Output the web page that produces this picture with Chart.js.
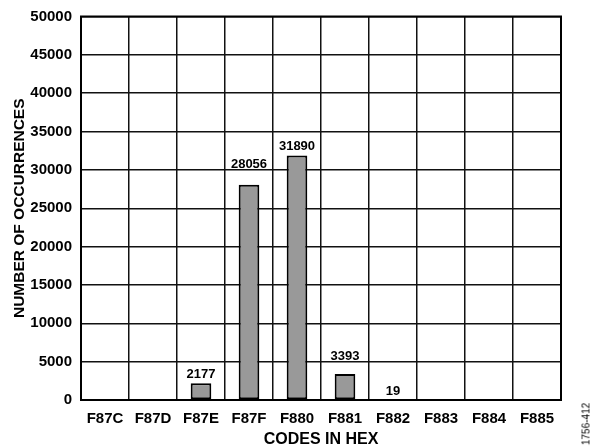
<!DOCTYPE html>
<html>
<head>
<meta charset="utf-8">
<script src="https://cdn.jsdelivr.net/npm/chart.js@4"></script>
<style>
  html, body { margin: 0; padding: 0; background: #fff; }
  #wrap { position: relative; width: 593px; height: 448px; }
  #side { position: absolute; left: 586px; top: 424px; transform: translate(-50%, -50%) rotate(-90deg);
          font: 10px "Liberation Sans", Arial, sans-serif; color: #000; white-space: nowrap; }
</style>
</head>
<body>
<div id="wrap">
  <canvas id="histChart" width="593" height="448"></canvas>
  <div id="side">1756-412</div>
</div>
<script>
// codes histogram
const codes = ['F87C', 'F87D', 'F87E', 'F87F', 'F880', 'F881', 'F882', 'F883', 'F884', 'F885'];
const occurrences = [0, 0, 2177, 28056, 31890, 3393, 19, 0, 0, 0];
const yTicks = [0, 5000, 10000, 15000, 20000, 25000, 30000, 35000, 40000, 45000, 50000];

const FONT = '"Liberation Sans", Arial, sans-serif';

// value labels above bars, pushed above a grid line when they would cross one
const barLabels = {
    id: 'barLabels',
    afterDatasetsDraw(chart) {
        const ctx = chart.ctx;
        const yScale = chart.scales.y;
        const meta = chart.getDatasetMeta(0);
        ctx.save();
        ctx.font = 'bold 13px ' + FONT;
        ctx.fillStyle = '#000';
        ctx.textAlign = 'center';
        ctx.textBaseline = 'alphabetic';
        meta.data.forEach((bar, i) => {
            const v = occurrences[i];
            if (!v) return;
            let base = bar.y - 5;
            const top = base - 10;
            yTicks.forEach(t => {
                const ly = yScale.getPixelForValue(t);
                if (ly >= top - 1 && ly <= base + 1) base = ly - 2;
            });
            ctx.fillText(String(v), bar.x, base);
        });
        ctx.restore();
    }
};

const frame = {
    id: 'frame',
    afterDraw(chart) {
        const a = chart.chartArea;
        const ctx = chart.ctx;
        ctx.save();
        ctx.strokeStyle = '#000';
        ctx.lineWidth = 2;
        ctx.strokeRect(a.left, a.top, a.right - a.left, a.bottom - a.top);
        ctx.restore();
    }
};

new Chart(document.getElementById('histChart').getContext('2d'), {
    type: 'bar',
    data: {
        labels: codes,
        datasets: [{
            data: occurrences,
            backgroundColor: '#999999',
            borderColor: '#000000',
            borderWidth: 2,
            borderSkipped: false,
            barPercentage: 0.43,
            categoryPercentage: 1.0
        }]
    },
    options: {
        responsive: false,
        animation: false,
        devicePixelRatio: 1,
        layout: { padding: { top: 15, right: 32, left: 0, bottom: 0 } },
        plugins: {
            legend: { display: false },
            tooltip: { enabled: false }
        },
        scales: {
            x: {
                offset: true,
                grid: { offset: true, color: '#111', lineWidth: 1.5, drawTicks: false },
                border: { color: '#000', width: 2 },
                ticks: { color: '#000', padding: 10, font: { family: FONT, size: 15, weight: 'bold' } },
                title: {
                    display: true, text: 'CODES IN HEX', color: '#000',
                    padding: 0, font: { family: FONT, size: 16, weight: 'bold', lineHeight: 1 }
                },
                afterFit(scale) { scale.height = 48; }
            },
            y: {
                min: 0,
                max: 50000,
                afterBuildTicks(scale) { scale.ticks = yTicks.map(v => ({ value: v })); },
                grid: { color: '#111', lineWidth: 1.5, drawTicks: false },
                border: { color: '#000', width: 2 },
                ticks: {
                    color: '#000', padding: 9, font: { family: FONT, size: 15, weight: 'bold', lineHeight: 1 },
                    callback: v => String(v)
                },
                title: {
                    display: true, text: 'NUMBER OF OCCURRENCES', color: '#000',
                    padding: { top: 10, bottom: 0 }, font: { family: FONT, size: 15.5, weight: 'bold' }
                },
                afterFit(scale) { scale.width = 81; }
            }
        }
    },
    plugins: [barLabels, frame]
});
</script>
</body>
</html>
